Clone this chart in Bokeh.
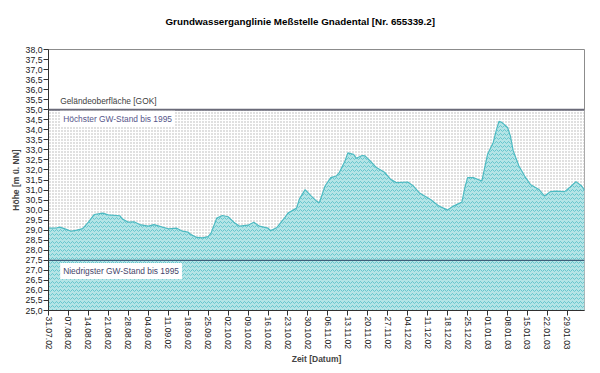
import pandas as pd
from bokeh.plotting import figure
from bokeh.models import Range1d, FixedTicker, CustomJSTickFormatter, Label, Span, Title
from bokeh.embed import file_html
from bokeh.resources import INLINE

title_text = "Grundwasserganglinie Meßstelle Gnadental [Nr. 655339.2]"
x_title = "Zeit [Datum]"
y_title = "Höhe [m ü. NN]"

dates = [
    "2002-07-31", "2002-08-03", "2002-08-04", "2002-08-06", "2002-08-08", "2002-08-10",
    "2002-08-12", "2002-08-14", "2002-08-16", "2002-08-19", "2002-08-21", "2002-08-22",
    "2002-08-25", "2002-08-26", "2002-08-28", "2002-08-30", "2002-09-01", "2002-09-04",
    "2002-09-06", "2002-09-09", "2002-09-11", "2002-09-14", "2002-09-16", "2002-09-18",
    "2002-09-19", "2002-09-21", "2002-09-23", "2002-09-25", "2002-09-26", "2002-09-28",
    "2002-09-30", "2002-10-02", "2002-10-04", "2002-10-06", "2002-10-09", "2002-10-11",
    "2002-10-13", "2002-10-16", "2002-10-17", "2002-10-19", "2002-10-22", "2002-10-23",
    "2002-10-26", "2002-10-27", "2002-10-29", "2002-10-31", "2002-11-02", "2002-11-03",
    "2002-11-05", "2002-11-07", "2002-11-09", "2002-11-10", "2002-11-12", "2002-11-13",
    "2002-11-15", "2002-11-16", "2002-11-18", "2002-11-19", "2002-11-21", "2002-11-23",
    "2002-11-26", "2002-11-28", "2002-11-30", "2002-12-04", "2002-12-06", "2002-12-08",
    "2002-12-12", "2002-12-15", "2002-12-18", "2002-12-20", "2002-12-23", "2002-12-24",
    "2002-12-25", "2002-12-27", "2002-12-30", "2002-12-31", "2003-01-01", "2003-01-03",
    "2003-01-04", "2003-01-05", "2003-01-06", "2003-01-08", "2003-01-09", "2003-01-10",
    "2003-01-12", "2003-01-14", "2003-01-16", "2003-01-19", "2003-01-21", "2003-01-23",
    "2003-01-25", "2003-01-28", "2003-01-30", "2003-02-01", "2003-02-03", "2003-02-04",
]
levels = [
    29.10, 29.12, 29.15, 29.05, 28.95, 29.00,
    29.08, 29.40, 29.78, 29.85, 29.76, 29.75,
    29.72, 29.55, 29.40, 29.42, 29.28, 29.20,
    29.28, 29.15, 29.07, 29.10, 28.95, 28.90,
    28.78, 28.64, 28.62, 28.68, 28.85, 29.60,
    29.73, 29.67, 29.40, 29.20, 29.25, 29.40,
    29.20, 29.10, 28.98, 29.12, 29.65, 29.85,
    30.10, 30.55, 31.02, 30.72, 30.45, 30.37,
    31.20, 31.62, 31.70, 31.87, 32.45, 32.85,
    32.78, 32.58, 32.72, 32.70, 32.42, 32.12,
    31.87, 31.53, 31.37, 31.40, 31.20, 30.87,
    30.53, 30.20, 30.00, 30.20, 30.40, 31.10,
    31.62, 31.62, 31.45, 32.12, 32.78, 33.37,
    33.95, 34.42, 34.37, 34.12, 33.70, 32.95,
    32.20, 31.70, 31.28, 31.03, 30.70, 30.92,
    30.95, 30.92, 31.15, 31.42, 31.20, 31.00,
]
tick_labels = [
    "31.07.02", "07.08.02", "14.08.02", "21.08.02", "28.08.02", "04.09.02", "11.09.02",
    "18.09.02", "25.09.02", "02.10.02", "09.10.02", "16.10.02", "23.10.02", "30.10.02",
    "06.11.02", "13.11.02", "20.11.02", "27.11.02", "04.12.02", "11.12.02", "18.12.02",
    "25.12.02", "01.01.03", "08.01.03", "15.01.03", "22.01.03", "29.01.03",
]
y_tick_values = [25.0, 25.5, 26.0, 26.5, 27.0, 27.5, 28.0, 28.5, 29.0, 29.5, 30.0, 30.5,
                 31.0, 31.5, 32.0, 32.5, 33.0, 33.5, 34.0, 34.5, 35.0, 35.5, 36.0, 36.5,
                 37.0, 37.5, 38.0]
x_start, x_end = "2002-07-31", "2003-02-04"
y_min, y_max = 25.0, 38.0
gok_level = 35.0
highest_level = 35.0
lowest_level = 27.5
gok_text = "Geländeoberfläche [GOK]"
highest_text = "Höchster GW-Stand bis 1995"
lowest_text = "Niedrigster GW-Stand bis 1995"

FONT = "Liberation Sans"

x = pd.to_datetime(dates)
xs = pd.Timestamp(x_start)
xe = pd.Timestamp(x_end)
tick_ts = pd.to_datetime(tick_labels, format="%d.%m.%y")
epoch = pd.Timestamp("1970-01-01")
tick_ms = [float((t - epoch) / pd.Timedelta(milliseconds=1)) for t in tick_ts]
label_map = {str(int(m)): l for m, l in zip(tick_ms, tick_labels)}

p = figure(width=600, height=373, x_axis_type="datetime",
           x_range=Range1d(xs, xe), y_range=Range1d(y_min, y_max),
           output_backend="svg", toolbar_location=None,
           min_border_left=48, min_border_right=16, min_border_top=49, min_border_bottom=63)

# spacer title next to the frame, then the real title further out
p.add_layout(Title(text=" ", text_font_size="8px", standoff=12), "above")
p.add_layout(Title(text=title_text, text_font=FONT, text_font_size="9.8px",
                   text_font_style="bold", text_color="#000000", align="left",
                   offset=117, standoff=0), "above")

p.xgrid.visible = False
p.ygrid.visible = False
p.outline_line_color = "#8c8c8c"
p.background_fill_color = "white"

# stippled band below ground surface
p.varea(x=[xs, xe], y1=[y_min, y_min], y2=[highest_level, highest_level],
        fill_color="white", hatch_pattern="dot", hatch_color="#b0b0b0",
        hatch_scale=3, hatch_weight=1)

# groundwater level area
p.varea(x=x, y1=y_min, y2=levels, fill_color="#b4e4e6",
        hatch_pattern="horizontal_wave", hatch_color="#66c6cd",
        hatch_scale=4, hatch_weight=1)
p.line(x, levels, line_color="#4dbac2", line_width=1.2)

p.add_layout(Span(location=lowest_level, dimension="width",
                  line_color="#3f5f7a", line_width=1.3))
p.add_layout(Span(location=gok_level, dimension="width",
                  line_color="#6a6a78", line_width=2.2))

lab_x = xs + pd.Timedelta(days=4.1)
p.add_layout(Label(x=lab_x, y=gok_level + 0.45, text=gok_text, text_font=FONT,
                   text_font_size="8.4px", text_color="#404040", text_baseline="middle"))
p.add_layout(Label(x=lab_x, y=highest_level - 0.45, text=highest_text, text_font=FONT,
                   text_font_size="8.4px", text_color="#55558a", text_baseline="middle",
                   background_fill_color="white", padding=3))
p.add_layout(Label(x=lab_x, y=lowest_level - 0.53, text=lowest_text, text_font=FONT,
                   text_font_size="8.4px", text_color="#45456a", text_baseline="middle",
                   background_fill_color="white", padding=3))

xa = p.xaxis[0]
xa.ticker = FixedTicker(ticks=tick_ms, minor_ticks=[])
xa.formatter = CustomJSTickFormatter(args=dict(m=label_map),
                                     code="return m[String(Math.round(tick))] || '';")
xa.major_label_orientation = "vertical"
xa.major_label_text_font = FONT
xa.major_label_text_font_size = "8.5px"
xa.major_label_text_color = "#202020"
xa.major_label_standoff = 1
xa.major_tick_out = 5
xa.major_tick_in = 0
xa.minor_tick_out = 0
xa.axis_line_color = "#303030"
xa.major_tick_line_color = "#303030"
xa.axis_label = x_title
xa.axis_label_text_font = FONT
xa.axis_label_text_font_size = "8.5px"
xa.axis_label_text_font_style = "bold"
xa.axis_label_standoff = 1

ya = p.yaxis[0]
ya.ticker = FixedTicker(ticks=y_tick_values, minor_ticks=[])
ya.formatter = CustomJSTickFormatter(code="return tick.toFixed(1).replace('.', ',');")
ya.major_label_text_font = FONT
ya.major_label_text_font_size = "8.7px"
ya.major_label_text_color = "#202020"
ya.major_label_standoff = 1
ya.major_tick_out = 5
ya.major_tick_in = 0
ya.minor_tick_out = 0
ya.axis_line_color = "#303030"
ya.major_tick_line_color = "#303030"
ya.axis_label = y_title
ya.axis_label_text_font = FONT
ya.axis_label_text_font_size = "8.5px"
ya.axis_label_text_font_style = "bold"
ya.axis_label_standoff = 2

open("out.html", "w").write(file_html(p, INLINE))
